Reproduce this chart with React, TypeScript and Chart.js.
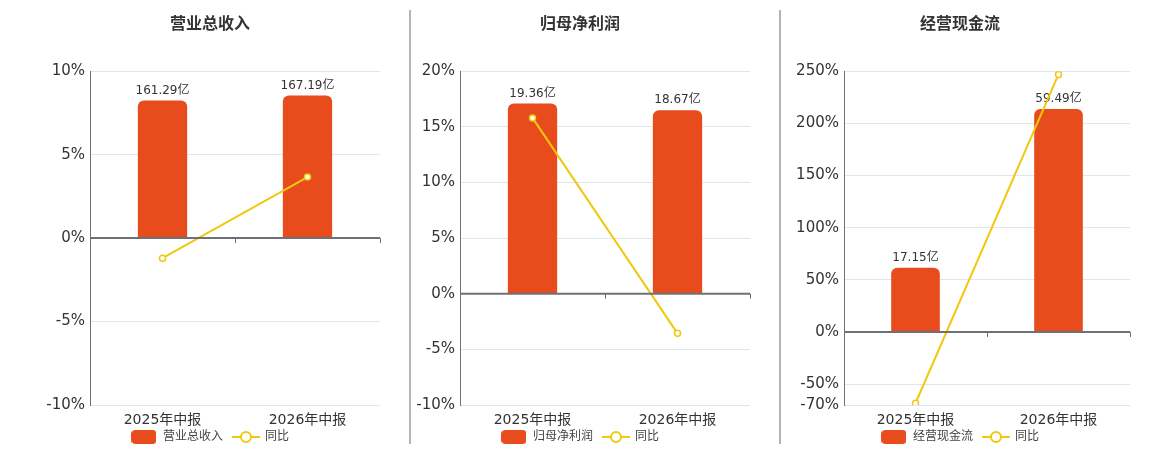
import { useEffect, useRef } from 'react';
import { Chart, registerables } from 'chart.js';

Chart.register(...registerables);

Chart.defaults.font.family = '"DejaVu Sans", "Noto Sans CJK SC", sans-serif';

const categories = ['2025年中报', '2026年中报'];

const revenue = [161.29, 167.19];
const revenueYoy = [-1.2, 3.66];
const revenueTicks = [-10, -5, 0, 5, 10];

const profit = [19.36, 18.67];
const profitYoy = [15.8, -3.56];
const profitTicks = [-10, -5, 0, 5, 10, 15, 20];

const cash = [17.15, 59.49];
const cashYoy = [-68.3, 246.9];
const cashTicks = [-70, -50, 0, 50, 100, 150, 200, 250];

const BAR_COLOR = '#e84b1c';
const LINE_COLOR = '#f2c80f';
const AXIS_COLOR = '#6e7079';
const GRID_COLOR = '#e0e6f1';

function makeBarIcon() {
  const c = document.createElement('canvas');
  c.width = 25;
  c.height = 14;
  const ctx = c.getContext('2d')!;
  ctx.fillStyle = BAR_COLOR;
  ctx.beginPath();
  ctx.roundRect(0, 0, 25, 14, 4);
  ctx.fill();
  return c;
}

function makeLineIcon() {
  const c = document.createElement('canvas');
  c.width = 28;
  c.height = 14;
  const ctx = c.getContext('2d')!;
  ctx.strokeStyle = LINE_COLOR;
  ctx.lineWidth = 2;
  ctx.beginPath();
  ctx.moveTo(0, 7);
  ctx.lineTo(28, 7);
  ctx.stroke();
  ctx.fillStyle = '#fff';
  ctx.beginPath();
  ctx.arc(14, 7, 5, 0, Math.PI * 2);
  ctx.fill();
  ctx.stroke();
  return c;
}

// zero line with small ticks at category edges
const zeroAxis = {
  id: 'zeroAxis',
  afterDatasetsDraw(chart: any) {
    const { ctx, chartArea, scales } = chart;
    const y0 = scales.y.getPixelForValue(0);
    const x = scales.x;
    const edges = [chartArea.left, chartArea.right];
    for (let i = 0; i < x.ticks.length - 1; i++) {
      edges.push((x.getPixelForValue(i) + x.getPixelForValue(i + 1)) / 2);
    }
    ctx.save();
    ctx.strokeStyle = AXIS_COLOR;
    ctx.lineWidth = 2;
    ctx.beginPath();
    ctx.moveTo(chartArea.left, y0);
    ctx.lineTo(chartArea.right, y0);
    ctx.stroke();
    ctx.lineWidth = 1;
    ctx.beginPath();
    edges.forEach((ex) => {
      const px = Math.round(ex) + 0.5;
      ctx.moveTo(px, y0);
      ctx.lineTo(px, y0 + 5);
    });
    ctx.stroke();
    ctx.restore();
  },
};

// value labels above the bars
const barLabels = {
  id: 'barLabels',
  afterDatasetDraw(chart: any, args: any) {
    if (args.meta.type !== 'bar') return;
    const { ctx } = chart;
    const ds = chart.data.datasets[args.index];
    ctx.save();
    ctx.font = '12px "DejaVu Sans", "Noto Sans CJK SC", sans-serif';
    ctx.fillStyle = '#333';
    ctx.textAlign = 'center';
    ctx.textBaseline = 'bottom';
    args.meta.data.forEach((bar: any, i: number) => {
      ctx.fillText(ds.data[i].toFixed(2) + '亿', bar.x, bar.y - 4);
    });
    ctx.restore();
  },
};

// pull the legend up closer to the axis labels
const legendShift = {
  id: 'legendShift',
  afterLayout(chart: any) {
    const lg = chart.legend;
    if (!lg) return;
    lg.top -= 10;
    lg.bottom -= 10;
  },
};

interface PanelProps {
  title: string;
  bars: number[];
  yoy: number[];
  ticks: number[];
  left: number;
  axisWidth: number;
}

function Panel({ title, bars, yoy, ticks, left, axisWidth }: PanelProps) {
  const chartRef = useRef<HTMLCanvasElement>(null);
  const chartInstance = useRef<Chart | null>(null);

  useEffect(() => {
    if (!chartRef.current) return;
    if (chartInstance.current) chartInstance.current.destroy();

    const pMin = ticks[0];
    const pMax = ticks[ticks.length - 1];
    const barMax = Math.max(...bars) * 1.17;
    const barMin = (barMax * pMin) / pMax;

    const barIcon = makeBarIcon();
    const lineIcon = makeLineIcon();

    chartInstance.current = new Chart(chartRef.current, {
      type: 'bar',
      data: {
        labels: categories,
        datasets: [
          {
            type: 'bar',
            label: title,
            data: bars,
            yAxisID: 'y1',
            order: 1,
            backgroundColor: BAR_COLOR,
            borderRadius: { topLeft: 6, topRight: 6, bottomLeft: 0, bottomRight: 0 },
            borderSkipped: false,
            categoryPercentage: 1,
            barPercentage: 0.34,
          },
          {
            type: 'line',
            label: '同比',
            data: yoy,
            yAxisID: 'y',
            order: 0,
            borderColor: LINE_COLOR,
            borderWidth: 2,
            pointRadius: 3,
            pointBorderWidth: 1.5,
            pointBackgroundColor: '#fff',
            pointBorderColor: LINE_COLOR,
            tension: 0,
          },
        ] as any,
      },
      options: {
        animation: false,
        responsive: false,
        maintainAspectRatio: false,
        layout: { padding: { left: 15, right: 15, top: 0, bottom: 0 } },
        plugins: {
          title: {
            display: true,
            text: title,
            color: '#333',
            font: { size: 16, weight: 'bold' },
            padding: { top: 15, bottom: 37 },
          },
          legend: {
            position: 'bottom',
            labels: {
              usePointStyle: true,
              pointStyleWidth: 26,
              padding: 10,
              color: '#444',
              font: { size: 12 },
              generateLabels: () => [
                {
                  text: title,
                  pointStyle: barIcon,
                  fillStyle: BAR_COLOR,
                  strokeStyle: BAR_COLOR,
                  lineWidth: 0,
                  hidden: false,
                  datasetIndex: 0,
                  fontColor: '#444',
                },
                {
                  text: '同比',
                  pointStyle: lineIcon,
                  fillStyle: '#fff',
                  strokeStyle: LINE_COLOR,
                  lineWidth: 0,
                  hidden: false,
                  datasetIndex: 1,
                  fontColor: '#444',
                },
              ] as any,
            },
          },
          tooltip: { enabled: false },
        },
        scales: {
          x: {
            grid: { display: false, drawTicks: false },
            border: { display: false },
            ticks: { color: '#333', font: { size: 14 }, padding: 7 },
            afterFit: (s: any) => {
              s.height = 26;
            },
          },
          y: {
            position: 'left',
            min: pMin,
            max: pMax,
            afterBuildTicks: (s: any) => {
              s.ticks = ticks.map((v) => ({ value: v }));
            },
            afterFit: (s: any) => {
              s.width = axisWidth;
            },
            grid: {
              color: GRID_COLOR,
              lineWidth: 1,
              drawTicks: false,
            },
            border: { display: true, color: AXIS_COLOR, width: 1 },
            ticks: {
              color: '#333',
              font: { size: 15 },
              padding: 5,
              callback: (v: any) => v + '%',
            },
          },
          y1: {
            display: false,
            min: barMin,
            max: barMax,
          },
        },
      },
      plugins: [zeroAxis, barLabels, legendShift],
    });

    return () => {
      if (chartInstance.current) {
        chartInstance.current.destroy();
        chartInstance.current = null;
      }
    };
  }, [title, bars, yoy, ticks, axisWidth]);

  return (
    <canvas
      ref={chartRef}
      width={370}
      height={463}
      style={{ position: 'absolute', left, top: 0, width: 370, height: 463 }}
    />
  );
}

export default function App() {
  const sep = (x: number) => (
    <div
      style={{
        position: 'absolute',
        left: x,
        top: 10,
        width: 2,
        height: 434,
        background: '#b4b4b4',
      }}
    />
  );
  return (
    <div
      style={{
        position: 'fixed',
        left: 0,
        top: 0,
        width: 1160,
        height: 450,
        overflow: 'hidden',
        background: '#fff',
      }}
    >
      {sep(409)}
      {sep(779)}
      <Panel title="营业总收入" bars={revenue} yoy={revenueYoy} ticks={revenueTicks} left={25} axisWidth={50} />
      <Panel title="归母净利润" bars={profit} yoy={profitYoy} ticks={profitTicks} left={395} axisWidth={50} />
      <Panel title="经营现金流" bars={cash} yoy={cashYoy} ticks={cashTicks} left={775} axisWidth={54} />
    </div>
  );
}
